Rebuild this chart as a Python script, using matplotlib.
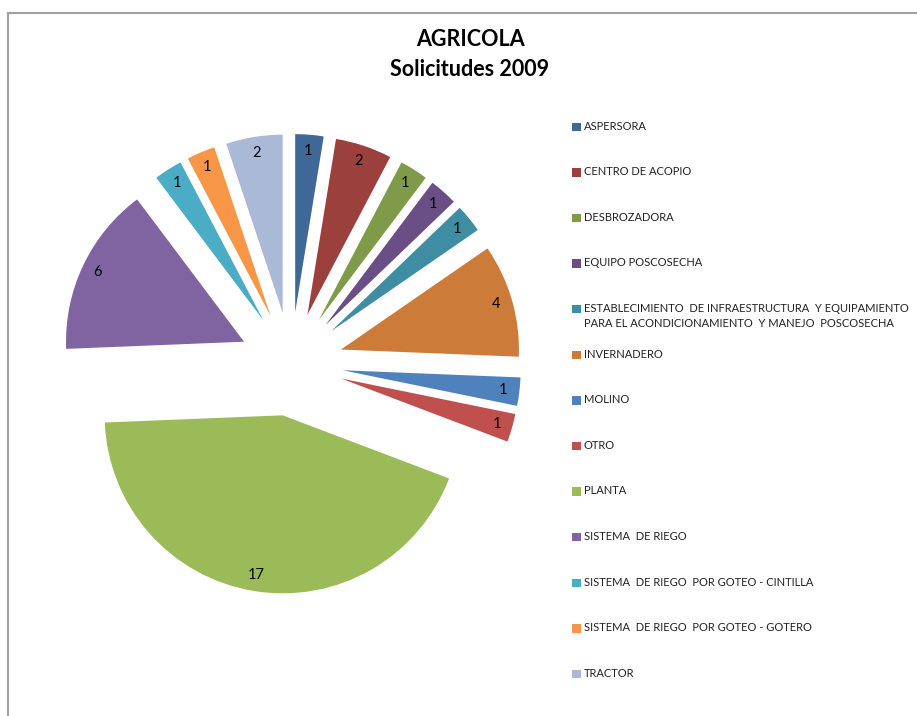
import matplotlib.pyplot as plt
from matplotlib.patches import Rectangle
from matplotlib.lines import Line2D

plt.rcParams['font.family'] = ['Lato', 'DejaVu Sans']

# solicitudes por tipo de proyecto
categorias = [
    'ASPERSORA',
    'CENTRO DE ACOPIO',
    'DESBROZADORA',
    'EQUIPO POSCOSECHA',
    'ESTABLECIMIENTO  DE INFRAESTRUCTURA  Y EQUIPAMIENTO\nPARA EL ACONDICIONAMIENTO  Y MANEJO  POSCOSECHA',
    'INVERNADERO',
    'MOLINO',
    'OTRO',
    'PLANTA',
    'SISTEMA  DE RIEGO',
    'SISTEMA  DE RIEGO  POR GOTEO - CINTILLA',
    'SISTEMA  DE RIEGO  POR GOTEO - GOTERO',
    'TRACTOR',
]
solicitudes = [1, 2, 1, 1, 1, 4, 1, 1, 17, 6, 1, 1, 2]
colores = ['#3f6899', '#9c403e', '#7f9a49', '#6a4f87', '#3e8da3', '#cc7b38',
           '#4f81bd', '#c0504d', '#9bbb59', '#8064a2', '#4bacc6', '#f79646',
           '#aab9d6']

W, H = 917, 716
fig = plt.figure(figsize=(W / 100, H / 100), dpi=100)
ax = fig.add_axes([0, 0, 1, 1])

total = sum(solicitudes)
radio = 178
# explode va en unidades de datos (pixeles aqui)
ax.pie(solicitudes, colors=colores, startangle=90, counterclock=False,
       center=(291, H - 364), radius=radio, explode=[52] * len(solicitudes),
       autopct=lambda p: '%d' % round(p * total / 100), pctdistance=0.91,
       wedgeprops=dict(linewidth=0), textprops=dict(fontsize=10.5, color='black'))
ax.set_xlim(0, W)
ax.set_ylim(0, H)
ax.set_aspect('equal')
ax.axis('off')

# titulo
fig.text(470 / W, 1 - 40 / H, 'AGRICOLA', ha='center', va='center',
         fontsize=15.5, fontweight='bold')
fig.text(470 / W, 1 - 70 / H, 'Solicitudes 2009', ha='center', va='center',
         fontsize=15.5, fontweight='bold')

# leyenda
for i, (cat, col) in enumerate(zip(categorias, colores)):
    y = 127 + i * 45.6
    fig.patches.append(Rectangle((572 / W, 1 - (y + 4) / H), 8.5 / W, 8.5 / H,
                                 transform=fig.transFigure, facecolor=col,
                                 edgecolor='none'))
    fig.text(584 / W, 1 - (y - 6.5) / H, cat, ha='left', va='top', fontsize=8.0,
             color='#222222', linespacing=1.5)

# borde del area del grafico
fig.lines.append(Line2D([8 / W, 8 / W], [0, 1 - 13 / H], transform=fig.transFigure,
                        color='#a0a0a0', linewidth=1.5))
fig.lines.append(Line2D([8 / W, 1], [1 - 13 / H, 1 - 13 / H], transform=fig.transFigure,
                        color='#a0a0a0', linewidth=1.5))

fig.savefig('out.png', dpi=100)
